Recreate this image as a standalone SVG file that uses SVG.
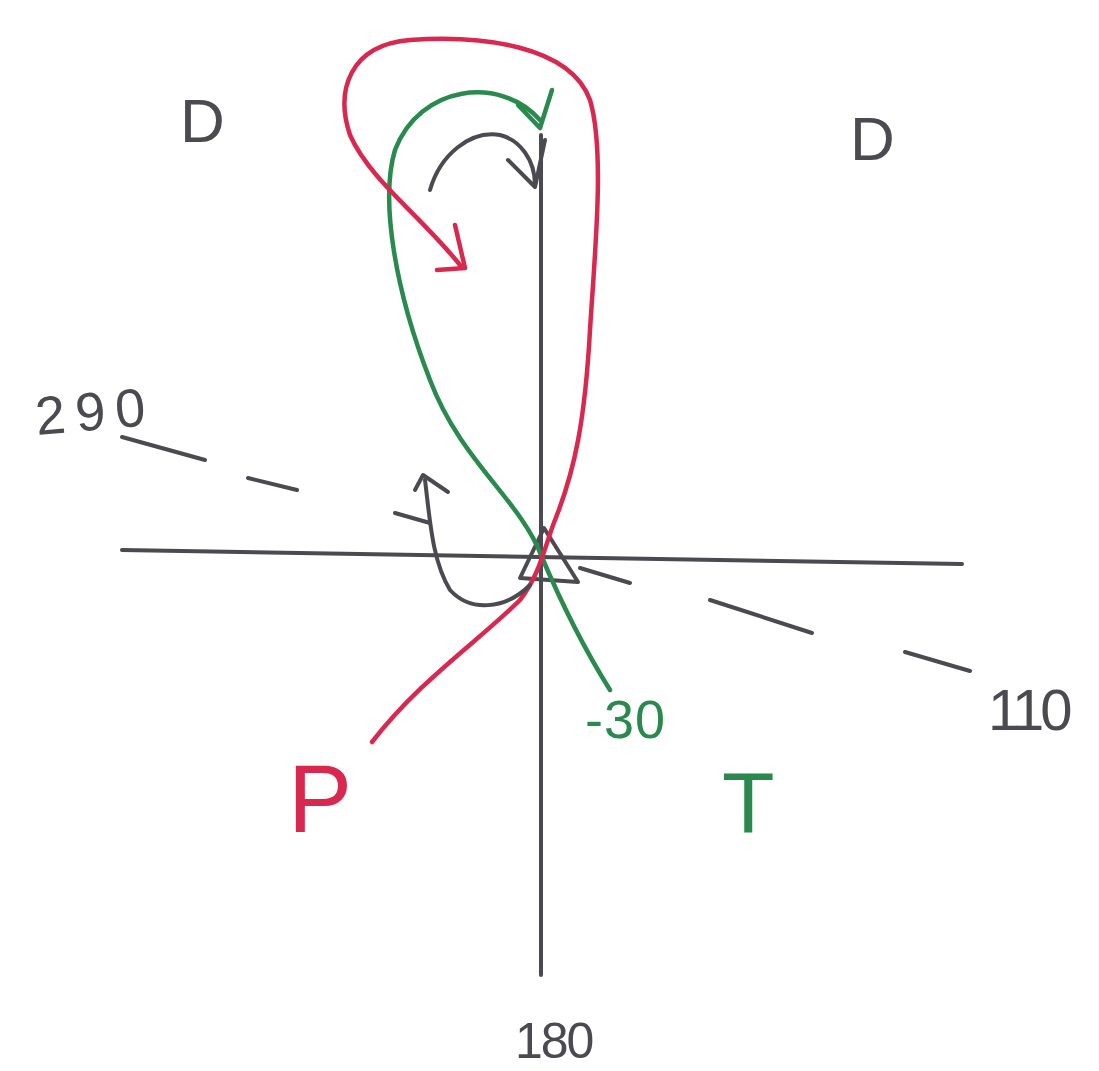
<svg xmlns="http://www.w3.org/2000/svg" width="1099" height="1071" viewBox="0 0 1099 1071">
<style>
.k{fill:none;stroke:#4a4a50;stroke-width:4;stroke-linecap:round;stroke-linejoin:round}
.r{fill:none;stroke:#d9284f;stroke-width:4.5;stroke-linecap:round;stroke-linejoin:round}
.g{fill:none;stroke:#2a8a4e;stroke-width:4.5;stroke-linecap:round;stroke-linejoin:round}
.t{font-family:"Liberation Sans",Arial,sans-serif;fill:#4a4a50}
</style>
<rect width="1099" height="1071" fill="#ffffff"/>
<g id="axes">
<path class="k" d="M122 550 L962 564"/>
<path class="k" d="M541 135 L541 975"/>
<path class="k" d="M122 437 L205 460 M248 478 L297 490 M395 513 L430 523 M580 568 L630 583 M710 600 L812 633 M905 652 L970 671"/>
<path class="k" d="M520 578 L544 528 L578 582 Z" stroke-width="3.5"/>
</g>
<g id="connectors">
<path class="g" d="M610 690 C585 650 560 600 541 555 C520 500 460 460 430 380 C395 290 380 200 395 150 C420 85 500 75 540 120"/>
<path class="g" d="M518 105 L540 128 L552 90"/>
<path class="r" d="M372 742 C420 680 480 640 520 600 C540 575 545 545 555 520 C575 470 585 420 590 330 C595 250 605 150 590 100 C570 45 480 35 410 40 C350 45 335 90 350 135 C370 180 420 215 460 265"/>
<path class="r" d="M437 270 L465 268 L455 225"/>
<path class="k" d="M430 190 C440 155 470 130 500 135 C520 140 535 160 535 185"/>
<path class="k" d="M508 160 L535 187 L545 140" stroke-width="3.5"/>
<path class="k" d="M425 480 C430 520 432 560 450 590 C470 612 505 610 530 585"/>
<path class="k" d="M415 490 L423 475 L448 492"/>
</g>
<g id="labels">
<text class="t" x="180" y="142" font-size="62">D</text>
<text class="t" x="850" y="160" font-size="62">D</text>
<text class="t" x="35" y="432" font-size="54" letter-spacing="10" transform="rotate(-5 70 410)">290</text>
<text class="t" x="988" y="730" font-size="58" letter-spacing="-4">110</text>
<text class="t" x="515" y="1058" font-size="50" letter-spacing="-2">180</text>
<text class="t" x="585" y="738" font-size="54" style="fill:#2a8a4e" letter-spacing="1">-30</text>
<text x="288" y="832" font-size="96" font-family="Liberation Sans,Arial,sans-serif" fill="#d9284f">P</text>
<text x="722" y="832" font-size="86" font-family="Liberation Sans,Arial,sans-serif" fill="#2a8a4e">T</text>
</g>
</svg>
